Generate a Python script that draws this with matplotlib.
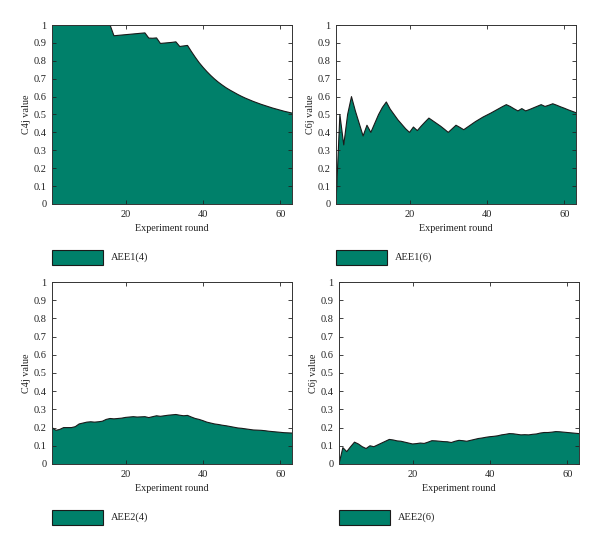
import matplotlib
matplotlib.use("Agg")
import matplotlib.pyplot as plt
import matplotlib.ticker as ticker
from matplotlib.patches import Rectangle
import numpy as np

plt.rcParams["font.family"] = ["Liberation Serif", "DejaVu Serif"]

_FILL = "#00806a"
_EDGE = "#1a1a1a"

rounds = np.arange(1, 64)

aee1_4 = [1.0] * 16 + [
    0.940, 0.942, 0.944, 0.946, 0.948, 0.950, 0.952, 0.954, 0.956,
    0.927, 0.926, 0.928,
    0.897, 0.899, 0.901, 0.903, 0.906,
    0.880, 0.883, 0.886,
    0.852, 0.820, 0.790, 0.764, 0.740, 0.718, 0.698, 0.680, 0.664, 0.649,
    0.636, 0.624, 0.612, 0.601, 0.591, 0.582, 0.573, 0.565, 0.557, 0.550,
    0.543, 0.536, 0.530, 0.524, 0.518, 0.513, 0.508,
]

aee1_6 = [
    0.00, 0.50, 0.33, 0.50, 0.60, 0.52, 0.45, 0.38, 0.44, 0.40,
    0.45, 0.50, 0.54, 0.57, 0.53, 0.50, 0.47, 0.445, 0.42, 0.40,
    0.43, 0.41, 0.435, 0.458, 0.48, 0.465, 0.45, 0.435, 0.418, 0.40,
    0.42, 0.44, 0.428, 0.415, 0.43, 0.445, 0.46, 0.473, 0.486, 0.497,
    0.508, 0.52, 0.532, 0.544, 0.555, 0.545, 0.532, 0.52, 0.533, 0.52,
    0.528, 0.537, 0.546, 0.555, 0.545, 0.552, 0.56, 0.552, 0.543, 0.535,
    0.526, 0.518, 0.51,
]

aee2_4 = [
    0.200, 0.185, 0.190, 0.200, 0.200, 0.200, 0.205, 0.220, 0.225, 0.230,
    0.232, 0.230, 0.232, 0.235, 0.245, 0.250, 0.248, 0.250, 0.252, 0.256,
    0.258, 0.260, 0.258, 0.259, 0.260, 0.255, 0.260, 0.265, 0.262, 0.265,
    0.268, 0.270, 0.272, 0.268, 0.265, 0.267, 0.258, 0.250, 0.245, 0.238,
    0.230, 0.225, 0.220, 0.217, 0.213, 0.210, 0.206, 0.202, 0.198, 0.196,
    0.193, 0.190, 0.187, 0.186, 0.185, 0.183, 0.180, 0.178, 0.176, 0.174,
    0.172, 0.171, 0.170,
]

aee2_6 = [
    0.000, 0.090, 0.068, 0.095, 0.120, 0.110, 0.095, 0.085, 0.100, 0.095,
    0.105, 0.115, 0.125, 0.135, 0.132, 0.127, 0.125, 0.120, 0.115, 0.110,
    0.112, 0.115, 0.113, 0.120, 0.128, 0.127, 0.125, 0.123, 0.122, 0.118,
    0.125, 0.130, 0.128, 0.125, 0.130, 0.135, 0.140, 0.143, 0.147, 0.150,
    0.152, 0.155, 0.160, 0.163, 0.167, 0.166, 0.163, 0.160, 0.161, 0.160,
    0.163, 0.165, 0.170, 0.173, 0.173, 0.175, 0.178, 0.177, 0.175, 0.173,
    0.171, 0.169, 0.167,
]

panels = [
    # (series, ylabel, legend label, axes rect, legend box rect)
    (aee1_4, "C4j value", "AEE1(4)", [0.0867, 0.6264, 0.40, 0.3278], [0.0867, 0.515, 0.085, 0.028]),
    (aee1_6, "C6j value", "AEE1(6)", [0.5600, 0.6264, 0.40, 0.3278], [0.5600, 0.515, 0.085, 0.028]),
    (aee2_4, "C4j value", "AEE2(4)", [0.0867, 0.1502, 0.40, 0.3333], [0.0867, 0.038, 0.085, 0.028]),
    (aee2_6, "C6j value", "AEE2(6)", [0.5650, 0.1502, 0.40, 0.3333], [0.5650, 0.038, 0.085, 0.028]),
]

fig = plt.figure(figsize=(6.0, 5.46), dpi=100, facecolor="white")

for vals, ylab, leg, rect, lrect in panels:
    ax = fig.add_axes(rect)
    ax.fill_between(rounds, 0, vals, facecolor=_FILL, edgecolor="none", zorder=1)
    ax.plot(rounds, vals, color=_EDGE, linewidth=0.8, zorder=2)

    ax.set_xlim(1, 63)
    ax.set_ylim(0, 1)
    ax.set_xticks([20, 40, 60])
    ax.set_yticks(np.arange(0, 1.01, 0.1))
    ax.yaxis.set_major_formatter(ticker.FuncFormatter(lambda v, p: f"{v:g}"))
    ax.tick_params(direction="in", top=True, right=True, length=3,
                   width=0.6, labelsize=7.5, colors="#222222", pad=4)
    for spine in ax.spines.values():
        spine.set_linewidth(0.7)
        spine.set_color("#333333")

    ax.set_xlabel("Experiment round", fontsize=7.3, color="#222222", labelpad=4)
    ax.set_ylabel(ylab, fontsize=7.3, color="#222222", labelpad=2)

    # legend swatch + label below each panel
    fig.patches.append(Rectangle((lrect[0], lrect[1]), lrect[2], lrect[3],
                                 transform=fig.transFigure, facecolor=_FILL,
                                 edgecolor=_EDGE, linewidth=0.8))
    fig.text(lrect[0] + lrect[2] + 0.013, lrect[1] + lrect[3] / 2, leg,
             ha="left", va="center", fontsize=7.5, color="#222222")

fig.savefig("out.png", dpi=100, facecolor="white")
